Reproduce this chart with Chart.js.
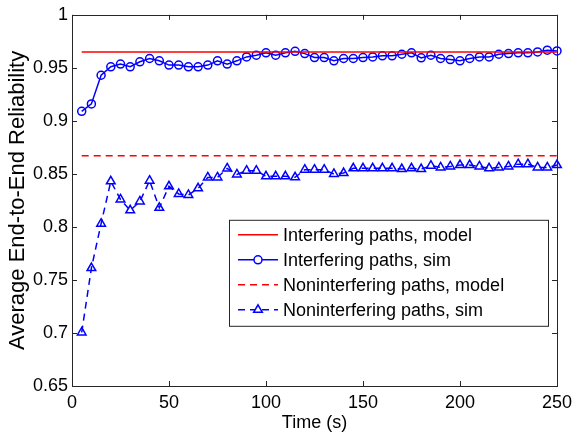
<!DOCTYPE html>
<html>
<head>
<meta charset="utf-8">
<script src="https://cdn.jsdelivr.net/npm/chart.js@4.4.1/dist/chart.umd.min.js"></script>
<style>
  html, body { margin: 0; padding: 0; background: #fff; }
  #wrap { width: 578px; height: 438px; }
</style>
</head>
<body>
<div id="wrap"><canvas id="myChart" width="578" height="438"></canvas></div>
<script>
// Time axis (s)
const times = [5, 10, 15, 20, 25, 30, 35, 40, 45, 50,
    55, 60, 65, 70, 75, 80, 85, 90, 95, 100,
    105, 110, 115, 120, 125, 130, 135, 140, 145, 150,
    155, 160, 165, 170, 175, 180, 185, 190, 195, 200,
    205, 210, 215, 220, 225, 230, 235, 240, 245, 250];

// Interfering paths, sim
const interferingSim = [0.909, 0.916, 0.943, 0.951, 0.9535, 0.951, 0.9557, 0.9588, 0.9566, 0.9526,
    0.9526, 0.951, 0.951, 0.9526, 0.9566, 0.9535, 0.9566, 0.9603, 0.9619, 0.9641,
    0.9619, 0.9641, 0.9656, 0.9634, 0.9597, 0.9597, 0.9566, 0.9588, 0.9588, 0.9597,
    0.9603, 0.9613, 0.9613, 0.9628, 0.9641, 0.9594, 0.9619, 0.9588, 0.9578, 0.9566,
    0.9588, 0.9603, 0.9603, 0.9628, 0.9634, 0.9641, 0.9641, 0.965, 0.9666, 0.9659];

// Noninterfering paths, sim
const noninterferingSim = [0.7005, 0.7612, 0.8031, 0.843, 0.8259, 0.8156, 0.824, 0.8436, 0.818, 0.8383,
    0.8311, 0.8302, 0.8364, 0.8467, 0.8467, 0.8551, 0.8495, 0.853, 0.853, 0.8477,
    0.8477, 0.8477, 0.8468, 0.8539, 0.8539, 0.8539, 0.8499, 0.8508, 0.8552, 0.8552,
    0.8552, 0.8552, 0.8552, 0.8546, 0.8552, 0.8546, 0.8577, 0.8561, 0.857, 0.8583,
    0.8583, 0.857, 0.8552, 0.8561, 0.857, 0.8592, 0.8592, 0.8561, 0.8561, 0.8583];

// Model values (constant lines)
const interferingModel = 0.965;
const noninterferingModel = 0.867;

const xTicks = [0, 50, 100, 150, 200, 250];
const yTicks = [0.65, 0.7, 0.75, 0.8, 0.85, 0.9, 0.95, 1];
const yTickLabels = ['0.65', '0.7', '0.75', '0.8', '0.85', '0.9', '0.95', '1'];

const FONT = '"Liberation Sans", Arial, Helvetica, sans-serif';
const AXIS_COLOR = '#262626';

const pairs = (xs, ys) => xs.map((x, i) => ({ x: x, y: ys[i] }));
const flat = (v) => [{ x: times[0], y: v }, { x: times[times.length - 1], y: v }];

// box, inward ticks on all four sides, and the in-axes legend
const matlabAxes = {
    id: 'matlabAxes',
    afterDatasetsDraw(chart) {
        const ctx = chart.ctx;
        const a = chart.chartArea;
        const xs = chart.scales.x, ys = chart.scales.y;
        ctx.save();
        ctx.strokeStyle = AXIS_COLOR;
        ctx.lineWidth = 1;
        ctx.beginPath();
        xTicks.forEach(v => {
            const px = Math.round(xs.getPixelForValue(v)) + 0.5;
            ctx.moveTo(px, a.bottom); ctx.lineTo(px, a.bottom - 5);
            ctx.moveTo(px, a.top); ctx.lineTo(px, a.top + 5);
        });
        yTicks.forEach(v => {
            const py = Math.round(ys.getPixelForValue(v)) + 0.5;
            ctx.moveTo(a.left, py); ctx.lineTo(a.left + 5, py);
            ctx.moveTo(a.right, py); ctx.lineTo(a.right - 5, py);
        });
        ctx.stroke();
        ctx.strokeRect(Math.round(a.left) + 0.5, Math.round(a.top) + 0.5,
            Math.round(a.right - a.left), Math.round(a.bottom - a.top));

        // legend
        const bx = a.left + 157, by = a.top + 205, bw = 319, bh = 106;
        ctx.fillStyle = '#fff';
        ctx.fillRect(bx, by, bw, bh);
        ctx.strokeRect(bx + 0.5, by + 0.5, bw, bh);
        ctx.font = '18px ' + FONT;
        ctx.textBaseline = 'middle';
        chart.data.datasets.forEach((ds, i) => {
            const ry = by + 15 + i * 25;
            const x0 = bx + 9, x1 = bx + 49;
            ctx.save();
            ctx.strokeStyle = ds.borderColor;
            ctx.lineWidth = ds.borderWidth;
            ctx.setLineDash(ds.borderDash || []);
            ctx.beginPath();
            ctx.moveTo(x0, ry); ctx.lineTo(x1, ry);
            ctx.stroke();
            ctx.setLineDash([]);
            if (ds.pointRadius > 0) {
                ctx.fillStyle = '#fff';
                ctx.lineWidth = ds.pointBorderWidth;
                Chart.helpers.drawPoint(ctx, {
                    pointStyle: ds.pointStyle, radius: ds.pointRadius,
                    rotation: 0, borderWidth: ds.pointBorderWidth
                }, (x0 + x1) / 2, ry);
            }
            ctx.restore();
            ctx.fillStyle = '#000';
            ctx.fillText(ds.label, bx + 54, ry + 1);
        });
        ctx.restore();
    }
};

const ctx = document.getElementById('myChart').getContext('2d');
new Chart(ctx, {
    type: 'line',
    data: {
        datasets: [{
            label: 'Interfering paths, model',
            data: flat(interferingModel),
            borderColor: '#ff0000',
            borderWidth: 1.5,
            pointRadius: 0
        }, {
            label: 'Interfering paths, sim',
            data: pairs(times, interferingSim),
            borderColor: '#0000ff',
            borderWidth: 1.5,
            pointStyle: 'circle',
            pointRadius: 4,
            pointBorderWidth: 1.5,
            pointBorderColor: '#0000ff',
            pointBackgroundColor: 'rgba(255,255,255,0)'
        }, {
            label: 'Noninterfering paths, model',
            data: flat(noninterferingModel),
            borderColor: '#ff0000',
            borderWidth: 1.5,
            borderDash: [7, 5],
            pointRadius: 0
        }, {
            label: 'Noninterfering paths, sim',
            data: pairs(times, noninterferingSim),
            borderColor: '#0000ff',
            borderWidth: 1.5,
            borderDash: [7, 5],
            pointStyle: 'triangle',
            pointRadius: 5,
            pointBorderWidth: 1.5,
            pointBorderColor: '#0000ff',
            pointBackgroundColor: 'rgba(255,255,255,0)'
        }]
    },
    options: {
        responsive: false,
        animation: false,
        clip: false,
        layout: { padding: { top: 11, right: 16, left: 0, bottom: 0 } },
        plugins: { legend: { display: false }, tooltip: { enabled: false } },
        elements: { line: { tension: 0 } },
        scales: {
            x: {
                type: 'linear',
                min: 0, max: 250,
                afterBuildTicks: s => { s.ticks = xTicks.map(v => ({ value: v })); },
                afterFit: s => { s.height = 52; },
                grid: { display: false, drawTicks: false },
                border: { display: false },
                ticks: { color: '#000', padding: 6, maxRotation: 0, font: { family: FONT, size: 18 } },
                title: { display: true, text: 'Time (s)', color: '#000', padding: { top: 0, bottom: 4 },
                    font: { family: FONT, size: 18 } }
            },
            y: {
                type: 'linear',
                min: 0.65, max: 1,
                afterBuildTicks: s => { s.ticks = yTicks.map(v => ({ value: v })); },
                afterFit: s => { s.width = 72; },
                grid: { display: false, drawTicks: false },
                border: { display: false },
                ticks: {
                    color: '#000', padding: 4, font: { family: FONT, size: 18 },
                    callback: (v) => yTickLabels[yTicks.indexOf(v)]
                },
                title: { display: true, text: 'Average End-to-End Reliability', color: '#000',
                    padding: { top: 5, bottom: 0 }, font: { family: FONT, size: 22 } }
            }
        }
    },
    plugins: [matlabAxes]
});
</script>
</body>
</html>
